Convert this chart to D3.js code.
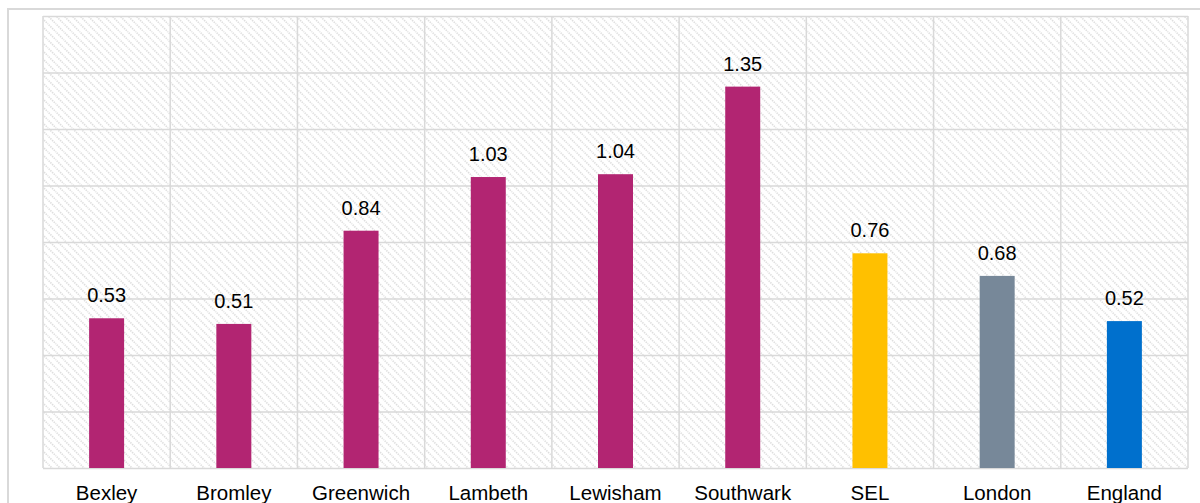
<!DOCTYPE html>
<html><head><meta charset="utf-8">
<script src="https://cdn.jsdelivr.net/npm/d3@7"></script>
<style>html,body{margin:0;padding:0;background:#fff;overflow:hidden}</style>
</head><body>
<svg id="c" width="1200" height="503"></svg>
<script>
const categories = ["Bexley","Bromley","Greenwich","Lambeth","Lewisham","Southwark","SEL","London","England"];
const values = [0.53,0.51,0.84,1.03,1.04,1.35,0.76,0.68,0.52];
const barColors = ["#B22572","#B22572","#B22572","#B22572","#B22572","#B22572","#FFC000","#778899","#0070CD"];
const yTicks = [0,0.2,0.4,0.6,0.8,1.0,1.2,1.4,1.6];

const svg = d3.select("#c");
const L = 43, R = 1188, T = 16, B = 468;

// outer frame
svg.append("rect").attr("x",8).attr("y",9).attr("width",1200).attr("height",520)
  .attr("fill","#fff").attr("stroke","#d9d9d9").attr("stroke-width",2);

const defs = svg.append("defs");
const pat = defs.append("pattern").attr("id","hatch").attr("patternUnits","userSpaceOnUse")
  .attr("width",8).attr("height",8);
pat.append("rect").attr("width",8).attr("height",8).attr("fill","#fff");
pat.append("path").attr("d","M-1,-1 L9,9 M-1,7 L1,9 M7,-1 L9,1")
  .attr("stroke","#dedede").attr("stroke-width",1.6).attr("stroke-dasharray","1.4,1");

const x = d3.scaleBand().domain(categories).range([L,R]).paddingInner(0.725).paddingOuter(0.3625);
const y = d3.scaleLinear().domain([0,1.6]).range([B,T]);

svg.append("rect").attr("x",L).attr("y",T).attr("width",R-L).attr("height",B-T).attr("fill","url(#hatch)");

// horizontal grid
const gy = svg.append("g").attr("transform",`translate(${L},0)`)
  .call(d3.axisLeft(y).tickValues(yTicks).tickSize(-(R-L)).tickFormat(""));
gy.select(".domain").remove();
gy.selectAll("line").attr("stroke","#d9d9d9").attr("stroke-width",1.5);

// vertical grid at category boundaries
const step = x.step();
const bounds = categories.map(c => x(c) - (step - x.bandwidth())/2).concat([R]);
svg.append("g").selectAll("line").data(bounds).join("line")
  .attr("x1",d=>d).attr("x2",d=>d).attr("y1",T).attr("y2",B)
  .attr("stroke","#d9d9d9").attr("stroke-width",1.5);

// bars
svg.append("g").selectAll("rect").data(values).join("rect")
  .attr("x",(d,i)=>x(categories[i])).attr("width",x.bandwidth())
  .attr("y",d=>y(d)).attr("height",d=>B-y(d))
  .attr("fill",(d,i)=>barColors[i]);

// value labels
svg.append("g").selectAll("text").data(values).join("text")
  .attr("x",(d,i)=>x(categories[i])+x.bandwidth()/2).attr("y",d=>y(d)-16)
  .attr("text-anchor","middle").attr("font-family","Liberation Sans, Arial, sans-serif")
  .attr("font-size",20).attr("fill","#000").text(d=>d.toFixed(2));

// category labels
svg.append("g").selectAll("text").data(categories).join("text")
  .attr("x",c=>x(c)+x.bandwidth()/2).attr("y",500)
  .attr("text-anchor","middle").attr("font-family","Liberation Sans, Arial, sans-serif")
  .attr("font-size",20.5).attr("fill","#000").text(c=>c);
</script>
</body></html>
